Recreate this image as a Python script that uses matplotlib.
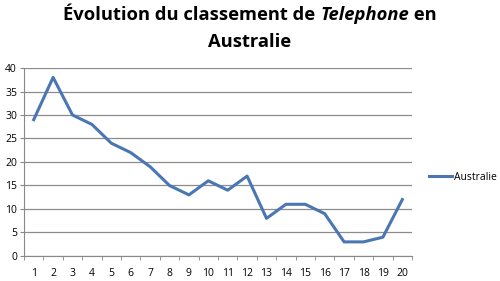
import matplotlib
matplotlib.use("Agg")
import matplotlib.pyplot as plt

weeks = list(range(1, 21))
positions = [29, 38, 30, 28, 24, 22, 19, 15, 13, 16, 14, 17, 8, 11, 11, 9, 3, 3, 4, 12]
series_name = "Australie"
title_parts = [("Évolution du classement de ", "normal"), ("Telephone", "italic"), (" en", "normal")]
title_line2 = "Australie"

plt.rcParams["font.family"] = ["Open Sans", "DejaVu Sans"]

fig = plt.figure(figsize=(5.0, 2.81), dpi=100)
ax = fig.add_axes([0.048, 0.089, 0.776, 0.669])

x = [w - 0.5 for w in weeks]
ax.plot(x, positions, color="#4a77b4", linewidth=2.2, label=series_name)

ax.set_xlim(0, 20)
ax.set_ylim(0, 40)
ax.set_yticks(range(0, 41, 5))
ax.set_xticks(x)
ax.set_xticklabels([str(w) for w in weeks])
ax.set_xticks(range(0, 21), minor=True)
ax.tick_params(axis="x", which="major", length=0, pad=9, labelsize=7.5)
ax.tick_params(axis="x", which="minor", length=3, color="#888888")
ax.tick_params(axis="y", length=3, color="#888888", labelsize=7.5, pad=2)
ax.grid(axis="y", color="#8c8c8c", linewidth=0.9)
ax.set_axisbelow(True)
for side in ("top", "right"):
    ax.spines[side].set_visible(False)
for side in ("left", "bottom"):
    ax.spines[side].set_color("#888888")

ax.legend(loc="center left", bbox_to_anchor=(1.02, 0.42), frameon=False,
          fontsize=7.5, handlelength=2.2, handletextpad=0.2)

# title: mixed bold / bold italic on the first line
fig.canvas.draw()
renderer = fig.canvas.get_renderer()
texts = []
for s, style in title_parts:
    t = fig.text(0, 1 - 15 / 281, s, fontsize=13.2, fontweight="bold", style=style,
                 va="center", ha="left")
    texts.append(t)
widths = [t.get_window_extent(renderer).width for t in texts]
total = sum(widths)
start = 250 - total / 2
for t, w in zip(texts, widths):
    t.set_x(start / 500)
    start += w
fig.text(0.5, 1 - 42 / 281, title_line2, fontsize=13.2, fontweight="bold",
         ha="center", va="center")

fig.savefig("out.png", dpi=100)
